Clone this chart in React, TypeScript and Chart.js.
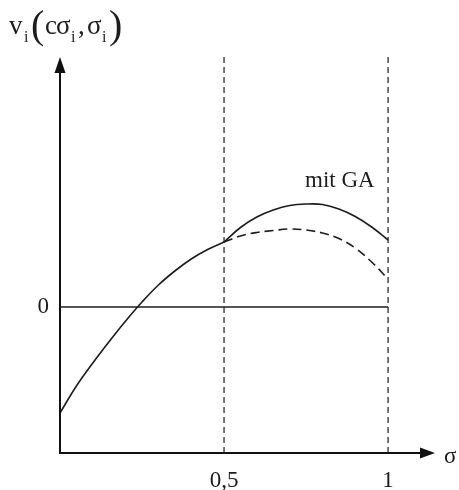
import React, { useEffect, useRef } from "react";
import { Chart, registerables } from "chart.js";

Chart.register(...registerables);

const FONT = '"Liberation Serif", "Times New Roman", serif';
const INK = "#1c1c1c";

// Common branch of v_i for sigma in [0, 0.5]
const sigmaBase = [0, 0.05, 0.1, 0.15, 0.2, 0.25, 0.3, 0.35, 0.4, 0.45, 0.5];
const valueBase = [-1.06, -0.79, -0.56, -0.345, -0.14, 0.05, 0.22, 0.36, 0.48, 0.575, 0.65];

// Branch with GA (solid) for sigma in [0.5, 1]
const sigmaGA = [0.5, 0.55, 0.6, 0.65, 0.7, 0.75, 0.8, 0.85, 0.9, 0.95, 1.0];
const valueGA = [0.65, 0.795, 0.9, 0.97, 1.015, 1.03, 1.025, 0.98, 0.905, 0.8, 0.67];

// Branch without GA (dashed) for sigma in [0.5, 1]
const sigmaNoGA = [0.5, 0.55, 0.6, 0.65, 0.7, 0.75, 0.8, 0.85, 0.9, 0.95, 1.0];
const valueNoGA = [0.65, 0.71, 0.745, 0.765, 0.78, 0.77, 0.74, 0.685, 0.59, 0.45, 0.28];

// Axis ticks
const xTicks = [0.5, 1];
const xTickLabels = ["0,5", "1"];
const yTicks = [0];
const yTickLabels = ["0"];

// Reference lines
const zeroLineSigma = [0, 1];
const markerSigmas = [0.5, 1];

const X_MIN = 0;
const X_MAX = 1.143;
const Y_MIN = -1.46;
const Y_MAX = 2.5;

const curveLabel = "mit GA";
const curveLabelAt = { x: 0.747, y: 1.2 };

const toPoints = (xs: number[], ys: number[]) => xs.map((x, i) => ({ x, y: ys[i] }));

const axesPlugin = {
  id: "arrowAxes",
  afterDraw(chart: any) {
    const { ctx, chartArea, scales } = chart;
    const xs = scales.x;
    const ys = scales.y;
    const x0 = xs.getPixelForValue(0);
    const bottom = chartArea.bottom;
    const top = chartArea.top;
    const right = chartArea.right;

    ctx.save();
    ctx.strokeStyle = "#111";
    ctx.fillStyle = "#111";
    ctx.lineWidth = 2;

    // vertical axis with arrow
    ctx.beginPath();
    ctx.moveTo(x0, bottom + 1);
    ctx.lineTo(x0, top + 12);
    ctx.stroke();
    ctx.beginPath();
    ctx.moveTo(x0, top);
    ctx.lineTo(x0 - 5.5, top + 16);
    ctx.lineTo(x0 + 5.5, top + 16);
    ctx.closePath();
    ctx.fill();

    // horizontal axis with arrow
    ctx.beginPath();
    ctx.moveTo(x0 - 1, bottom);
    ctx.lineTo(right - 12, bottom);
    ctx.stroke();
    ctx.beginPath();
    ctx.moveTo(right, bottom);
    ctx.lineTo(right - 15, bottom - 5.5);
    ctx.lineTo(right - 15, bottom + 5.5);
    ctx.closePath();
    ctx.fill();

    // tick labels
    ctx.fillStyle = INK;
    ctx.font = `23px ${FONT}`;
    ctx.textAlign = "center";
    ctx.textBaseline = "alphabetic";
    xTicks.forEach((v, i) => {
      ctx.fillText(xTickLabels[i], xs.getPixelForValue(v), bottom + 34);
    });
    ctx.textAlign = "right";
    ctx.textBaseline = "middle";
    yTicks.forEach((v, i) => {
      ctx.fillText(yTickLabels[i], x0 - 11, ys.getPixelForValue(v));
    });

    // axis name sigma
    ctx.textAlign = "left";
    ctx.textBaseline = "alphabetic";
    ctx.font = `23px ${FONT}`;
    ctx.fillText("σ", right + 9, bottom + 10);

    // curve annotation
    ctx.font = `23px ${FONT}`;
    ctx.fillText(curveLabel, xs.getPixelForValue(curveLabelAt.x), ys.getPixelForValue(curveLabelAt.y));

    // vertical axis title: v_i(cσ_i, σ_i)
    const main = `27px ${FONT}`;
    const sub = `16px ${FONT}`;
    const paren = `40px ${FONT}`;
    const base = 34;
    const subBase = 42;
    const parts: [string, string, number, number][] = [
      ["v", main, 9, base],
      ["i", sub, 24, subBase],
      ["(", paren, 31, base + 4],
      ["c", main, 45, base],
      ["σ", main, 56, base],
      ["i", sub, 71, subBase],
      [",", main, 78, base],
      ["σ", main, 87, base],
      ["i", sub, 102, subBase],
      [")", paren, 109, base + 4],
    ];
    parts.forEach(([t, f, x, y]) => {
      ctx.font = f;
      ctx.fillText(t, x, y);
    });
    ctx.restore();
  },
};

export default function App() {
  const ref = useRef<HTMLCanvasElement>(null);

  useEffect(() => {
    if (!ref.current) return;
    const markerSets = markerSigmas.map((s) => ({
      data: [
        { x: s, y: Y_MIN },
        { x: s, y: Y_MAX },
      ],
      borderColor: INK,
      borderWidth: 1.2,
      borderDash: [6, 4],
      pointRadius: 0,
      tension: 0,
    }));

    const curve = { borderColor: INK, borderWidth: 1.6, pointRadius: 0, tension: 0.4 };

    const chart = new Chart(ref.current, {
      type: "line",
      data: {
        datasets: [
          ...markerSets,
          {
            data: zeroLineSigma.map((x) => ({ x, y: 0 })),
            borderColor: INK,
            borderWidth: 1.6,
            pointRadius: 0,
          },
          { ...curve, data: toPoints(sigmaBase, valueBase) },
          { ...curve, data: toPoints(sigmaGA, valueGA) },
          { ...curve, data: toPoints(sigmaNoGA, valueNoGA), borderDash: [9, 5] },
        ] as any,
      },
      options: {
        animation: false,
        responsive: false,
        devicePixelRatio: 1,
        layout: { padding: { left: 60, top: 57, right: 24, bottom: 37 } },
        plugins: { legend: { display: false }, tooltip: { enabled: false } },
        scales: {
          x: { type: "linear", min: X_MIN, max: X_MAX, display: false },
          y: { type: "linear", min: Y_MIN, max: Y_MAX, display: false },
        },
      },
      plugins: [axesPlugin],
    });
    return () => chart.destroy();
  }, []);

  return (
    <div style={{ position: "absolute", left: 0, top: 0, width: 459, height: 490, background: "#fff" }}>
      <canvas ref={ref} width={459} height={490} />
    </div>
  );
}
